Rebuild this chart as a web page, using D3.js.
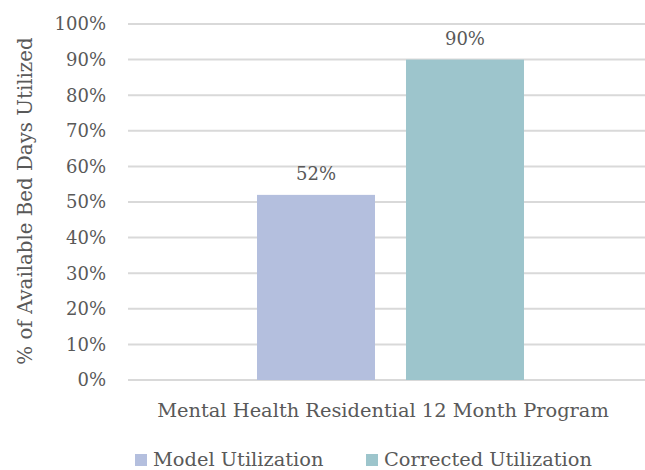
<!DOCTYPE html>
<html lang="en">
<head>
  <meta charset="utf-8">
  <title>Bed days utilized</title>
  <script src="https://cdn.jsdelivr.net/npm/d3@7"></script>
  <style>
    body { margin: 0; background: #fff; }
    text { font-family: "DejaVu Serif", serif; fill: #595959; }
  </style>
</head>
<body>
<svg width="645" height="470"></svg>
<script>
  // chart data
  var categories = ["Mental Health Residential 12 Month Program"];
  var seriesNames = ["Model Utilization", "Corrected Utilization"];
  var seriesValues = [52, 90];
  var seriesColors = ["#b4bfde", "#9dc5cc"];
  var yTicks = [0, 10, 20, 30, 40, 50, 60, 70, 80, 90, 100];

  var svg = d3.select("svg");

  var x = d3.scaleBand().domain(categories).range([128, 653]).padding(0);
  var x1 = d3.scaleBand().domain(seriesNames).range([0, x.bandwidth()])
      .paddingInner(0.208).paddingOuter(0.866);
  var y = d3.scaleLinear().domain([0, 100]).range([380, 24]);

  // gridlines
  svg.append("g")
     .selectAll("line")
     .data(yTicks)
     .enter().append("line")
     .attr("x1", 128)
     .attr("x2", 645)
     .attr("y1", function(d) { return y(d); })
     .attr("y2", function(d) { return y(d); })
     .attr("stroke", "#d9d9d9")
     .attr("stroke-width", 2);

  // y tick labels
  svg.append("g")
     .selectAll("text")
     .data(yTicks)
     .enter().append("text")
     .attr("x", 106)
     .attr("y", function(d) { return y(d); })
     .attr("dy", "0.35em")
     .attr("text-anchor", "end")
     .attr("font-size", "18px")
     .text(function(d) { return d + "%"; });

  // bars
  var g = svg.append("g");
  g.selectAll("rect")
   .data(seriesValues)
   .enter().append("rect")
   .attr("x", function(d, i) { return x(categories[0]) + x1(seriesNames[i]); })
   .attr("y", function(d) { return y(d); })
   .attr("width", x1.bandwidth())
   .attr("height", function(d) { return y(0) - y(d); })
   .attr("fill", function(d, i) { return seriesColors[i]; });

  // value labels
  g.selectAll(".val")
   .data(seriesValues)
   .enter().append("text")
   .attr("class", "val")
   .attr("x", function(d, i) { return x(categories[0]) + x1(seriesNames[i]) + x1.bandwidth() / 2; })
   .attr("y", function(d) { return y(d) - 15; })
   .attr("text-anchor", "middle")
   .attr("font-size", "18px")
   .text(function(d) { return d + "%"; });

  // category label
  svg.append("text")
     .attr("x", 383)
     .attr("y", 417)
     .attr("text-anchor", "middle")
     .attr("font-size", "19.4px")
     .text(categories[0]);

  // y axis title
  svg.append("text")
     .attr("transform", "translate(32,201) rotate(-90)")
     .attr("text-anchor", "middle")
     .attr("font-size", "19.8px")
     .text("% of Available Bed Days Utilized");

  // legend
  var legendX = [135, 366];
  var legend = svg.append("g")
     .selectAll("g")
     .data(seriesNames)
     .enter().append("g")
     .attr("transform", function(d, i) { return "translate(" + legendX[i] + ",454)"; });

  legend.append("rect")
     .attr("width", 12)
     .attr("height", 12)
     .attr("fill", function(d, i) { return seriesColors[i]; });

  legend.append("text")
     .attr("x", 18)
     .attr("y", 12)
     .attr("font-size", "19.4px")
     .text(function(d) { return d; });
</script>
</body>
</html>
